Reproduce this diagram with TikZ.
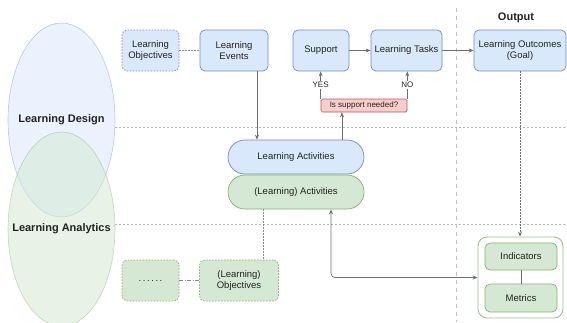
\documentclass[tikz,border=0pt]{standalone}
\usepackage{fontspec}
\setmainfont{Liberation Sans}
\usetikzlibrary{arrows.meta,shapes.geometric}
\definecolor{bluefill}{HTML}{DAE8FC}
\definecolor{blueline}{HTML}{6C8EBF}
\definecolor{greenfill}{HTML}{D5E8D4}
\definecolor{greenline}{HTML}{82B366}
\definecolor{redfill}{HTML}{F8CECC}
\definecolor{redline}{HTML}{B85450}
\definecolor{linegray}{HTML}{6E6E6E}
\definecolor{divgray}{HTML}{B0B0B0}
\definecolor{textgray}{HTML}{222222}
\tikzset{
  box/.style={draw, rounded corners=5pt, inner sep=0pt, align=center, line width=0.7pt, text=textgray},
  bluebox/.style={box, fill=bluefill, draw=blueline},
  greenbox/.style={box, fill=greenfill, draw=greenline},
  dotbox/.style={dash pattern=on 1.5pt off 1.5pt},
  pill/.style={rounded corners=16.9pt, minimum width=136pt, minimum height=34pt},
  arr/.style={draw=linegray, line width=0.7pt, -{Stealth[length=5pt,width=4pt]}},
  link/.style={draw=linegray!80, line width=0.7pt, dash pattern=on 1.5pt off 1.5pt},
  divider/.style={draw=divgray, line width=0.6pt, dash pattern=on 2pt off 2pt},
  blob/.style={ellipse, minimum width=107pt, minimum height=194pt, inner sep=0pt, line width=0.6pt, fill opacity=0.55, draw opacity=0.45},
  bloblabel/.style={font=\fontsize{11}{13}\selectfont\bfseries, text=textgray},
  small/.style={font=\fontsize{8}{9}\selectfont},
}
\begin{document}
\begin{tikzpicture}[x=1pt, y=-1pt, font=\fontsize{9.5}{11}\selectfont]
  \useasboundingbox (0,0) rectangle (567,322);
  \node[blob, fill=bluefill, draw=blueline] (design) at (61.5,120) {};
  \node[blob, fill=greenfill, draw=greenline] (analytics) at (61.5,229) {};
  \node[bloblabel] (designlabel) at (design.center) {Learning Design};
  \node[bloblabel] (analyticslabel) at (analytics.center) {Learning Analytics};

  \draw[divider] (115,127) -- (567,127);
  \draw[divider] (115,224) -- (567,224);
  \draw[draw=divgray!80, line width=1pt, dash pattern=on 4pt off 4pt] (456,8) -- (456,322);
  \node[bloblabel] (output) at (516,18) {Output};

  \node[bluebox, dotbox, minimum width=57pt, minimum height=41pt] (lobj) at (150.5,50.5) {Learning\\Objectives};
  \node[bluebox, minimum width=68pt, minimum height=41pt] (levents) at (234,50.5) {Learning\\Events};
  \node[bluebox, minimum width=56pt, minimum height=41pt] (support) at (321,50.5) {Support};
  \node[bluebox, minimum width=71pt, minimum height=41pt] (ltasks) at (406.5,50.5) {Learning Tasks};
  \node[bluebox, minimum width=92pt, minimum height=41pt] (lout) at (520,50.5) {Learning Outcomes\\(Goal)};
  \node[box, small, fill=redfill, draw=redline, rounded corners=1.5pt, minimum width=86pt, minimum height=13pt] (question) at (364,105.5) {Is support needed?};

  \node[bluebox, pill] (lact) at (296,157) {Learning Activities};
  \node[greenbox, pill] (llact) at (296,192) {(Learning) Activities};

  \node[greenbox, dotbox, minimum width=57pt, minimum height=41pt] (dots) at (150.5,280.5) {.\,.\,.\,.\,.\,.};
  \node[greenbox, dotbox, minimum width=79pt, minimum height=41pt] (lobj2) at (239,280.5) {(Learning)\\Objectives};

  \node[box, fill=white, draw=greenline!80, line width=0.9pt, rounded corners=9pt, minimum width=85pt, minimum height=81pt] (metricsbox) at (520.5,277.5) {};
  \node[greenbox, minimum width=72pt, minimum height=27pt] (ind) at (521,256.5) {Indicators};
  \node[greenbox, minimum width=72pt, minimum height=28pt] (met) at (521,298) {Metrics};

  \draw[link] (lobj.east) -- (levents.west);
  \draw[arr] ([xshift=23pt]levents.south) -- ([xshift=23pt]levents.south |- lact.north);
  \draw[arr] (support.east) -- (ltasks.west);
  \draw[arr] (ltasks.east) -- (lout.west);
  \draw[arr] (question.north west) -- node[small, fill=white, inner sep=1pt, text=textgray] {YES} (question.north west |- support.south);
  \draw[arr] (question.north east) -- node[small, fill=white, inner sep=1pt, text=textgray] {NO} (question.north east |- ltasks.south);
  \draw[arr] ([xshift=46pt]lact.north) -- ([xshift=46pt]lact.north |- question.south);
  \draw[link] ([xshift=-33pt]llact.south) -- ([xshift=-33pt]llact.south |- lobj2.north);
  \draw[link, dash pattern=on 4pt off 1.5pt on 1pt off 1.5pt] (dots.east) -- (lobj2.west);
  \draw[arr, dash pattern=on 1.5pt off 1.5pt] (lout.south) -- (lout.south |- metricsbox.north);
  \draw[draw=linegray, line width=0.7pt] (ind.south) -- (met.north);
  \draw[arr, {Stealth[length=5pt,width=4pt]}-{Stealth[length=5pt,width=4pt]}, rounded corners=4pt] ([xshift=35pt]llact.south) |- (metricsbox.west);
\end{tikzpicture}
\end{document}
